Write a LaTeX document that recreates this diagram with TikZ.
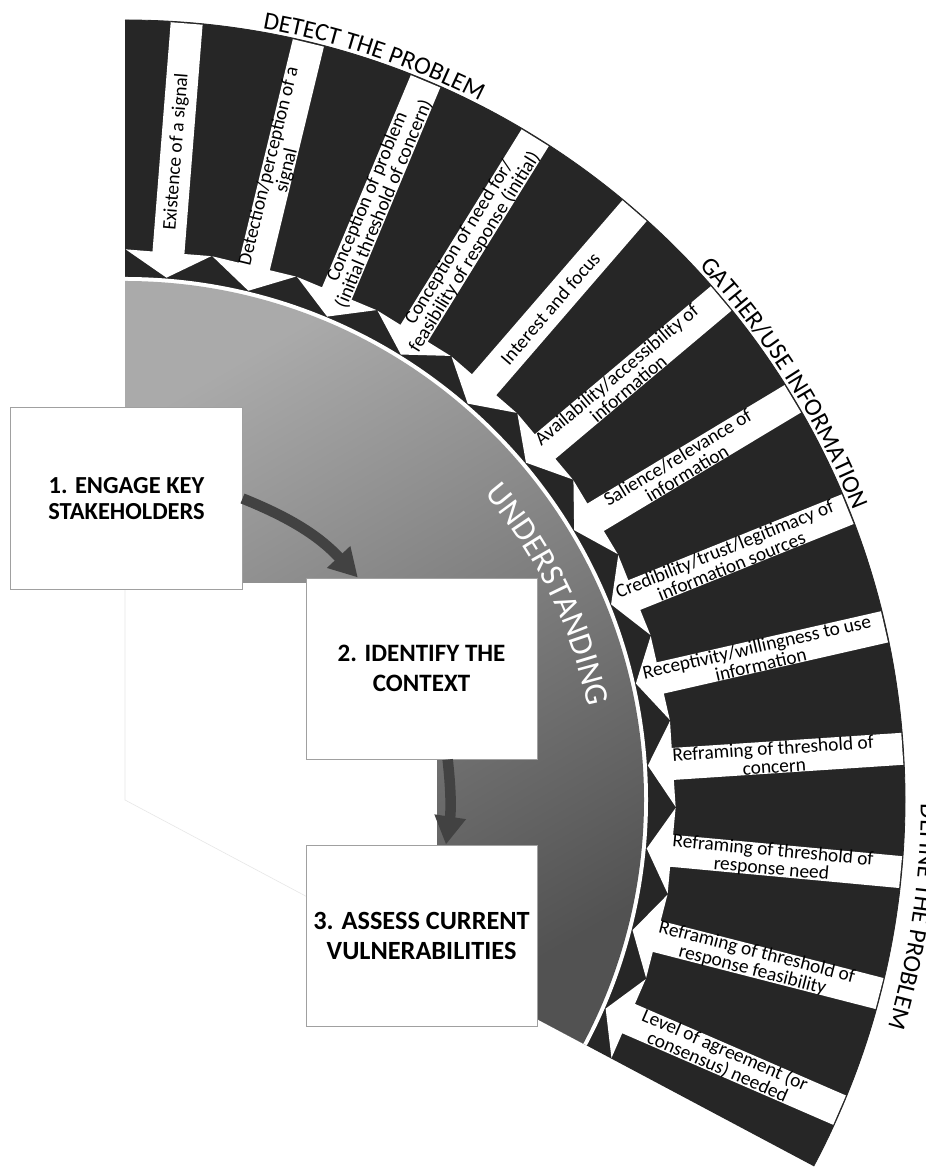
\documentclass[tikz,border=0pt]{standalone}
\usepackage{fontspec}
\setmainfont{Carlito}
\usetikzlibrary{positioning, arrows.meta, calc, decorations.text}

\definecolor{banddark}{RGB}{38,38,38}
\definecolor{ringlight}{RGB}{170,170,170}
\definecolor{ringdark}{RGB}{82,82,82}
\definecolor{linkgray}{RGB}{66,66,66}
\definecolor{boxline}{RGB}{160,160,160}
\definecolor{faintline}{RGB}{230,230,230}

\begin{document}
\begin{tikzpicture}[
  x=0.025cm, y=0.025cm,
  stagebox/.style={draw=boxline, fill=white, line width=0.7pt,
                   minimum width=5.775cm, minimum height=4.525cm, align=center,
                   font=\fontsize{17.4}{18.3}\selectfont\bfseries, inner sep=2pt},
  steplabel/.style={align=center, font=\fontsize{13.8}{13}\selectfont, inner sep=0pt},
  link/.style={linkgray, line width=7.5pt, -{Triangle[width=21.3pt, length=20pt]}},
  arclabel/.style={decorate, decoration={text along path, text align=center,
                   text={|\fontsize{17.8}{20}\selectfont|#1}}},
]
  \fill[white] (-125,-369) rectangle (801,800);
  \useasboundingbox (-125,-369) rectangle (801,800);

  % dark band, white rim, shaded ring
  \fill[banddark] (0,0) -- (90:780) arc[start angle=90, end angle=-28, radius=780] -- cycle;
  \fill[white] (0,0) -- (90:523) arc[start angle=90, end angle=-28, radius=523] -- cycle;
  \shade[top color=ringlight, bottom color=ringdark, shading angle=30]
    (0,0) -- (90:519) arc[start angle=90, end angle=-28, radius=519] -- cycle;
  \fill[white] (0,217) rectangle (312,-223);
  \draw[faintline] (0,211) -- (0,0) -- (-28:300);
  \draw[banddark, line width=0.6pt] (90:780) arc[start angle=90, end angle=-28, radius=780];

  % block arrows
  \foreach \n in {0,...,12} {
    \fill[white, rotate={85.46-\n*9.077}] (524,0) -- (549,43) -- (549,16) -- (779,16)
      -- (779,-16) -- (549,-16) -- (549,-43) -- cycle;
  }
  \foreach \txt [count=\n] in {
      {Existence of a signal},
      {Detection/perception of a\\signal},
      {Conception of problem\\(initial threshold of concern)},
      {Conception of need for/\\feasibility of response (initial)},
      {Interest and focus},
      {Availability/accessibility of\\information},
      {Salience/relevance of\\information},
      {Credibility/trust/legitimacy of\\information sources},
      {Receptivity/willingness to use\\information},
      {Reframing of threshold of\\concern},
      {Reframing of threshold of\\response need},
      {Reframing of threshold of\\response feasibility},
      {Level of agreement (or\\consensus) needed}} {
    \pgfmathsetmacro{\ang}{85.46-(\n-1)*9.077}
    \node[steplabel, rotate=\ang] (step\n) at (\ang:650) {\txt};
  }

  % phase titles
  \path[arclabel=DETECT THE PROBLEM] (86.5:784) arc[start angle=86.5, end angle=56.5, radius=784];
  \path[arclabel=GATHER/USE INFORMATION] (47.3:784) arc[start angle=47.3, end angle=17.3, radius=784];
  \path[arclabel=DEFINE THE PROBLEM] (6.6:796) arc[start angle=6.6, end angle=-23.4, radius=796];
  \path[decorate, decoration={text along path, text align=center, text color=white,
        text={|\fontsize{23.5}{26}\selectfont|UNDERSTANDING}}]
    (45.9:472) arc[start angle=45.9, end angle=5.9, radius=472];

  % steps
  \node[stagebox] (engage) at (1.5,301.5) {1. ENGAGE KEY\\STAKEHOLDERS};
  \node[stagebox, font=\fontsize{17.8}{21.3}\selectfont\bfseries,
        below right=-0.3cm and 1.575cm of engage] (context) {2. IDENTIFY THE\\CONTEXT};
  \node[stagebox, font=\fontsize{18.7}{21.3}\selectfont\bfseries,
        below=2.125cm of context] (assess) {3. ASSESS CURRENT\\VULNERABILITIES};

  \draw[link] (engage.east) to[bend left=12.5] (context.125);
  \draw[link] (context.-74) to[bend left=7.5] (assess.75);
\end{tikzpicture}
\end{document}
